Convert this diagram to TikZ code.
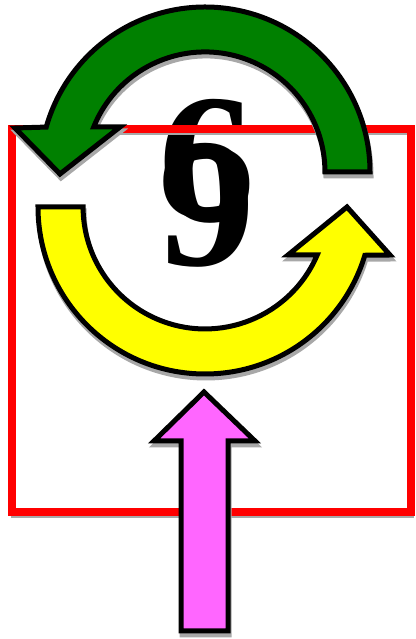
\documentclass[tikz,border=0pt]{standalone}
\usepackage{fontspec}
\setmainfont{Liberation Serif}
\usepackage{tikz}
\usetikzlibrary{positioning, calc}
\usepackage{xcolor}
\definecolor{loopgreen}{HTML}{008000}
\definecolor{loopyellow}{HTML}{FFFF00}
\definecolor{pushpink}{HTML}{FF66FF}
\definecolor{framered}{HTML}{FF0000}
\definecolor{shadowgray}{HTML}{A8A8A8}

\begin{document}
\begin{tikzpicture}[x=1pt, y=1pt,
    blockarrow/.style={draw=black, line width=5pt, line join=miter},
    dropshade/.style={preaction={draw=shadowgray, fill=shadowgray, line width=5pt,
        transform canvas={xshift=1pt, yshift=-4pt}}},
    digit/.style={font=\bfseries\fontsize{178}{178}\selectfont, inner sep=0pt}]
    \useasboundingbox (0,0) rectangle (415,639);
    % the 6 over the 9, sharing one bowl
    \node[digit, anchor=base] (sixnine) at (207,417.2)
      {\scalebox{1.09}[1.037]{\makebox[0pt]{6}\makebox[0pt]{\raisebox{-0.238em}{9}}}};
    % frame
    \draw[shadowgray, line width=4pt] (13,123) rectangle (412,506);
    \draw[framered, line width=8pt] (12,127) rectangle (411,510);
    % green arrow, over the top
    \draw[blockarrow, fill=loopgreen, dropshade]
      (370,467) arc[start angle=0, end angle=164.2, radius=165]
      -- (15,511) -- (60,465) -- (120,512) -- (93.7,512)
      arc[start angle=158, end angle=0, radius=120] -- cycle;
    % yellow arrow, round the bottom
    \draw[blockarrow, fill=loopyellow, dropshade]
      (38,432) arc[start angle=180, end angle=343.2, radius=167]
      -- (390,384) -- (347,432) -- (288,384) -- (317.2,384)
      arc[start angle=336.8, end angle=180, radius=122] -- cycle;
    % pink arrow from below
    \draw[blockarrow, fill=pushpink, dropshade]
      (181,8) -- (181,198) -- (154,198) -- (204,247) -- (255,198)
      -- (228,198) -- (228,8) -- cycle;
  \end{tikzpicture}
\end{document}
